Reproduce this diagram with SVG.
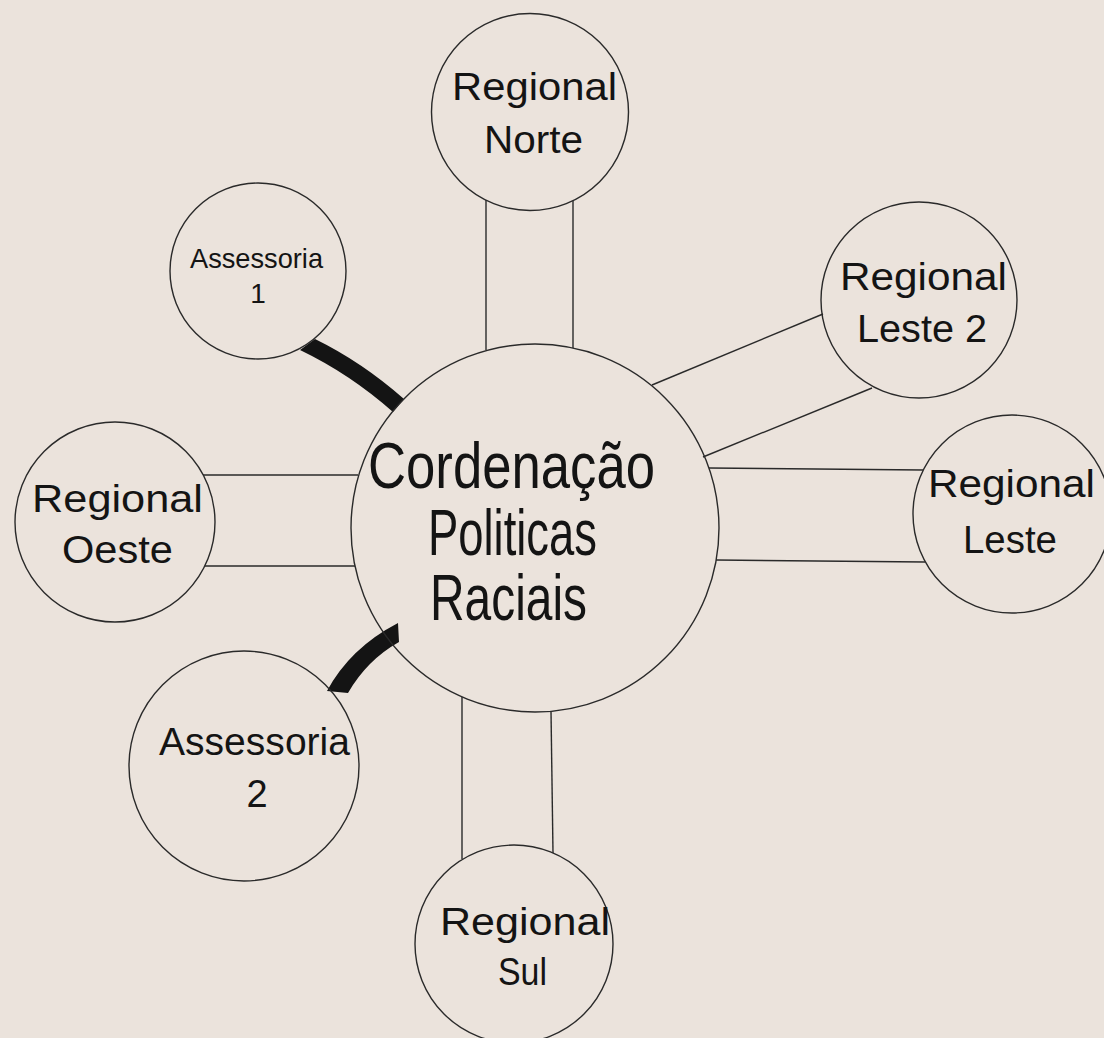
<svg xmlns="http://www.w3.org/2000/svg" width="1104" height="1038" viewBox="0 0 1104 1038">
<style>
.bg{fill:#ebe3dc}
.node{fill:none;stroke:#2a2a2a;stroke-width:1.4}
.conn{stroke:#2a2a2a;stroke-width:1.4;fill:none}
.thick{fill:#141414;stroke:none}
text{font-family:"Liberation Sans",Arial,sans-serif;fill:#141414;text-anchor:middle}
.big{font-size:64px}
.mid{font-size:38px}
.sm{font-size:28px}
</style>
<rect class="bg" x="0" y="0" width="1104" height="1038"/>
<g id="connectors">
<line class="conn" x1="486" y1="200" x2="486" y2="350"/>
<line class="conn" x1="573" y1="201" x2="573" y2="348"/>
<line class="conn" x1="823" y1="314" x2="652" y2="385"/>
<line class="conn" x1="872" y1="388" x2="703" y2="457"/>
<line class="conn" x1="709" y1="468" x2="923" y2="470"/>
<line class="conn" x1="716" y1="560" x2="925" y2="562"/>
<line class="conn" x1="203" y1="475" x2="358" y2="475"/>
<line class="conn" x1="205" y1="566" x2="355" y2="566"/>
<line class="conn" x1="462" y1="697" x2="462" y2="859"/>
<line class="conn" x1="551" y1="711" x2="553" y2="853"/>
<path class="thick" d="M315,339 Q362,362 404,399 L393,412 Q350,374 300,350 Z"/>
<path class="thick" d="M327,691 Q350,648 398,623 L399,642 Q367,660 348,693 Z"/>
</g>
<g id="central">
<circle class="node" cx="535" cy="528" r="184"/>
<text class="big" x="511.5" y="488" textLength="287" lengthAdjust="spacingAndGlyphs">Cordenação</text>
<text class="big" x="512.5" y="555" textLength="169" lengthAdjust="spacingAndGlyphs">Politicas</text>
<text class="big" x="508.5" y="620" textLength="157" lengthAdjust="spacingAndGlyphs">Raciais</text>
</g>
<g id="regional-norte">
<circle class="node" cx="530" cy="112" r="98.5"/>
<text class="mid" x="534.5" y="100" textLength="165" lengthAdjust="spacingAndGlyphs">Regional</text>
<text class="mid" x="533.5" y="153" textLength="99" lengthAdjust="spacingAndGlyphs">Norte</text>
</g>
<g id="assessoria-1">
<circle class="node" cx="258" cy="271" r="88"/>
<text class="sm" x="256.5" y="268" textLength="133" lengthAdjust="spacingAndGlyphs">Assessoria</text>
<text class="sm" x="258" y="303">1</text>
</g>
<g id="regional-leste-2">
<circle class="node" cx="919" cy="300" r="98"/>
<text class="mid" x="923.5" y="290" textLength="167" lengthAdjust="spacingAndGlyphs">Regional</text>
<text class="mid" x="922" y="342" textLength="130" lengthAdjust="spacingAndGlyphs">Leste 2</text>
</g>
<g id="regional-leste">
<circle class="node" cx="1012" cy="514" r="99"/>
<text class="mid" x="1011.5" y="497" textLength="167" lengthAdjust="spacingAndGlyphs">Regional</text>
<text class="mid" x="1010" y="553" textLength="94" lengthAdjust="spacingAndGlyphs">Leste</text>
</g>
<g id="regional-oeste">
<circle class="node" cx="115" cy="522" r="100"/>
<text class="mid" x="117.5" y="512" textLength="171" lengthAdjust="spacingAndGlyphs">Regional</text>
<text class="mid" x="117.5" y="563" textLength="111" lengthAdjust="spacingAndGlyphs">Oeste</text>
</g>
<g id="assessoria-2">
<circle class="node" cx="244" cy="766" r="115"/>
<text class="mid" x="254.5" y="755" textLength="191" lengthAdjust="spacingAndGlyphs">Assessoria</text>
<text class="mid" x="257" y="807">2</text>
</g>
<g id="regional-sul">
<circle class="node" cx="514" cy="944" r="99"/>
<text class="mid" x="525" y="935" textLength="170" lengthAdjust="spacingAndGlyphs">Regional</text>
<text class="mid" x="522.5" y="985" textLength="49" lengthAdjust="spacingAndGlyphs">Sul</text>
</g>
</svg>
